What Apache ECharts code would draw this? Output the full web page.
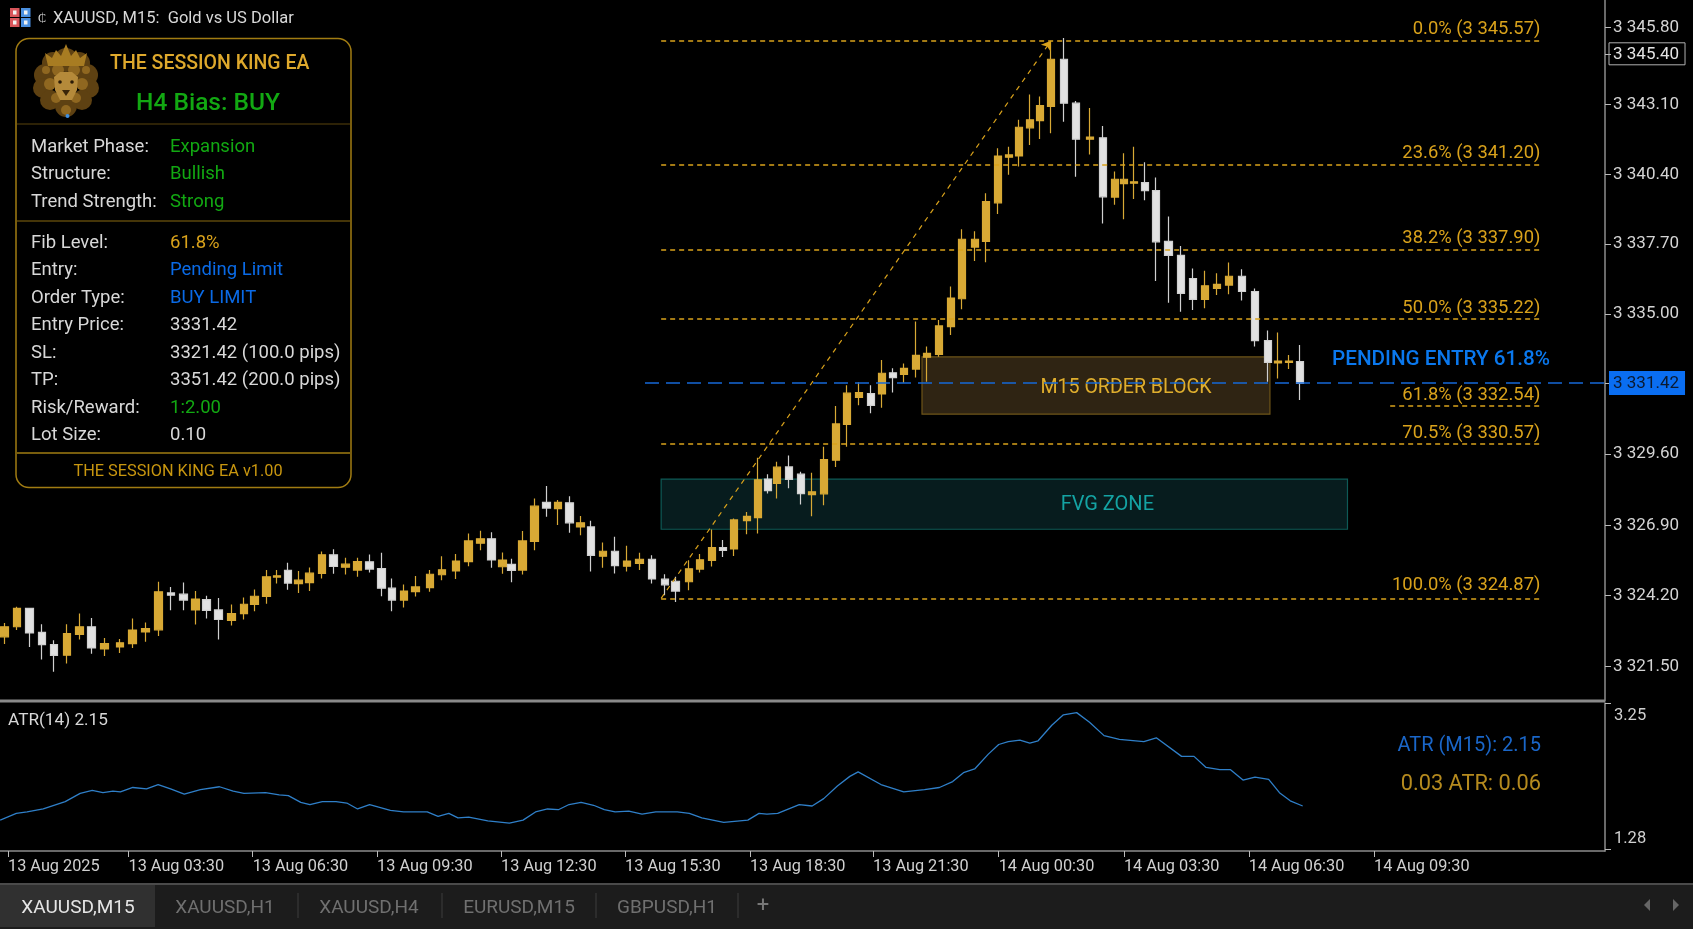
<!DOCTYPE html>
<html><head><meta charset="utf-8">
<style>html,body{margin:0;padding:0;background:#000}#c{width:1693px;height:929px}</style>
<script src="https://cdn.jsdelivr.net/npm/echarts@6/dist/echarts.min.js"></script>
</head><body><div id="c"></div>
<script>
const candleTimes=[-0.09,0.22,0.52,0.82,1.11,1.42,1.72,2.01,2.33,2.70,3.00,3.32,3.63,3.93,4.23,4.52,4.79,5.08,5.39,5.69,5.94,6.23,6.49,6.75,7.01,7.27,7.57,7.85,8.14,8.43,8.72,9.01,9.26,9.55,9.83,10.17,10.47,10.80,11.10,11.39,11.66,11.92,12.14,12.41,12.69,12.98,13.26,13.54,13.80,14.06,14.35,14.64,14.93,15.23,15.53,15.84,16.09,16.42,16.69,16.98,17.24,17.51,17.82,18.09,18.33,18.54,18.83,19.12,19.39,19.68,19.97,20.23,20.52,20.81,21.08,21.34,21.61,21.90,22.16,22.45,22.74,23.00,23.32,23.58,23.87,24.14,24.38,24.64,24.89,25.15,25.46,25.75,26.09,26.40,26.69,26.91,27.15,27.42,27.68,27.99,28.29,28.57,28.86,29.15,29.44,29.76,30.07,30.38,30.62,30.89,31.16];
const candleOpen=[3322.48,3322.87,3323.58,3322.65,3322.18,3321.77,3322.57,3322.87,3322.01,3322.09,3322.22,3322.67,3322.75,3324.18,3324.13,3323.52,3323.92,3323.52,3323.12,3323.38,3323.73,3324.04,3324.79,3325.05,3324.54,3324.58,3324.93,3325.65,3325.17,3325.06,3325.38,3325.12,3324.36,3323.90,3324.23,3324.38,3324.88,3325.03,3325.39,3326.10,3326.27,3325.19,3325.28,3325.06,3326.17,3327.68,3327.44,3327.66,3326.73,3326.73,3325.60,3325.79,3325.21,3325.32,3325.48,3324.71,3324.63,3324.61,3325.10,3325.44,3325.93,3325.88,3326.97,3327.09,3328.58,3328.41,3329.05,3328.77,3327.98,3328.01,3329.31,3330.69,3331.74,3331.88,3331.87,3332.69,3332.63,3332.83,3333.29,3333.40,3334.47,3335.55,3337.55,3337.77,3339.26,3341.02,3341.07,3342.16,3342.44,3342.99,3344.81,3343.11,3341.72,3341.77,3339.48,3340.00,3340.02,3340.04,3339.73,3337.77,3337.23,3336.33,3335.53,3335.95,3336.08,3336.42,3335.83,3333.93,3333.07,3333.09,3333.12];
const candleClose=[3322.87,3323.58,3322.63,3322.18,3321.76,3322.61,3322.87,3322.05,3322.22,3322.25,3322.74,3322.80,3324.22,3324.09,3323.90,3323.94,3323.50,3323.15,3323.38,3323.74,3324.05,3324.80,3324.84,3324.56,3324.67,3324.94,3325.65,3325.20,3325.29,3325.39,3325.10,3324.36,3323.90,3324.25,3324.41,3324.90,3325.07,3325.41,3326.19,3326.27,3325.45,3325.45,3325.05,3326.19,3327.53,3327.46,3327.68,3326.89,3326.89,3325.63,3325.79,3325.23,3325.41,3325.48,3324.72,3324.49,3324.25,3325.11,3325.46,3325.93,3325.82,3327.00,3327.14,3328.55,3328.13,3329.04,3328.57,3328.02,3328.09,3329.33,3330.71,3331.90,3331.92,3331.43,3332.67,3332.50,3332.86,3333.36,3333.44,3334.50,3335.58,3337.85,3337.85,3339.31,3341.07,3341.11,3342.18,3342.47,3343.02,3344.81,3343.11,3341.72,3341.80,3339.49,3340.17,3340.17,3340.07,3339.73,3337.75,3337.23,3335.76,3335.53,3336.05,3336.11,3336.42,3335.83,3333.93,3333.09,3333.14,3333.14,3332.28];
const candleLow=[3322.20,3322.74,3322.09,3321.60,3321.13,3321.45,3322.38,3321.83,3321.74,3321.86,3322.05,3322.29,3322.51,3323.51,3323.51,3322.96,3323.19,3322.38,3322.92,3323.15,3323.47,3323.76,3324.54,3324.30,3324.18,3324.25,3324.74,3324.92,3324.89,3324.80,3324.97,3324.05,3323.47,3323.61,3324.04,3324.22,3324.67,3324.72,3325.21,3325.83,3325.15,3324.92,3324.59,3324.89,3325.83,3327.12,3326.80,3326.50,3326.41,3325.01,3325.15,3324.93,3325.01,3325.06,3324.54,3324.09,3323.83,3324.28,3324.97,3325.20,3325.57,3325.61,3326.45,3326.48,3328.02,3327.83,3328.22,3327.60,3327.14,3327.57,3329.05,3329.83,3331.43,3331.12,3331.34,3331.93,3332.30,3332.51,3332.34,3333.31,3334.15,3335.14,3337.01,3336.96,3338.83,3340.34,3340.66,3341.49,3341.73,3341.95,3342.39,3340.27,3341.13,3338.46,3339.18,3338.62,3339.41,3339.36,3336.24,3335.40,3335.05,3335.12,3335.18,3335.70,3335.72,3335.48,3333.70,3332.34,3332.47,3332.83,3331.64];
const candleHigh=[3323.02,3323.64,3323.58,3322.97,3322.35,3322.97,3323.38,3323.21,3322.44,3322.40,3323.19,3323.03,3324.61,3324.41,3324.58,3324.25,3324.07,3323.98,3323.73,3324.00,3324.31,3325.06,3325.06,3325.34,3325.03,3325.16,3325.78,3325.87,3325.54,3325.54,3325.66,3325.73,3324.74,3324.50,3324.83,3325.06,3325.60,3325.68,3326.48,3326.58,3326.52,3325.74,3325.50,3326.57,3327.83,3328.31,3327.77,3327.92,3327.15,3326.97,3326.13,3326.35,3326.00,3325.73,3325.63,3324.90,3324.80,3325.44,3325.68,3326.63,3326.22,3327.06,3327.31,3329.40,3328.77,3329.25,3329.49,3328.86,3328.82,3329.83,3331.40,3332.21,3332.32,3332.21,3333.18,3332.86,3333.05,3334.67,3333.70,3334.73,3336.02,3338.24,3338.16,3339.63,3341.37,3341.43,3342.47,3343.45,3343.37,3345.50,3345.63,3343.20,3342.92,3342.23,3340.47,3341.18,3341.43,3340.83,3340.24,3338.73,3337.59,3336.72,3336.63,3336.54,3336.95,3336.69,3335.95,3334.32,3334.25,3333.38,3333.76];

const atrTimes=[-0.19,0.20,0.46,0.85,1.38,1.74,2.03,2.29,2.53,2.71,3.01,3.34,3.62,3.92,4.25,4.64,5.10,5.43,5.69,6.21,6.54,6.76,7.06,7.28,7.58,7.91,8.17,8.43,8.72,9.22,9.54,9.81,10.11,10.37,10.63,10.85,11.11,11.57,12.09,12.42,12.72,13.01,13.27,13.53,13.82,14.12,14.38,14.64,14.97,15.29,15.62,16.14,16.43,16.73,17.26,17.84,18.11,18.30,18.56,19.08,19.39,19.67,20.00,20.30,20.50,21.05,21.60,22.10,22.46,22.78,23.04,23.31,23.64,23.89,24.12,24.40,24.64,24.84,25.17,25.45,25.77,26.08,26.43,26.80,27.39,27.69,28.30,28.60,28.89,29.22,29.48,29.78,30.07,30.40,30.66,30.92,31.22];
const atrValues=[1.67,1.76,1.78,1.82,1.92,2.03,2.07,2.04,2.06,2.05,2.11,2.09,2.15,2.09,2.02,2.08,2.12,2.06,2.03,2.04,2.01,2.00,1.91,1.88,1.92,1.92,1.90,1.82,1.88,1.80,1.78,1.78,1.78,1.72,1.76,1.70,1.71,1.66,1.63,1.67,1.78,1.82,1.81,1.88,1.91,1.87,1.81,1.78,1.79,1.75,1.78,1.78,1.76,1.70,1.64,1.67,1.76,1.75,1.76,1.88,1.86,1.96,2.13,2.26,2.32,2.15,2.05,2.08,2.11,2.19,2.31,2.36,2.56,2.69,2.73,2.75,2.71,2.74,2.95,3.09,3.12,2.99,2.81,2.76,2.73,2.78,2.53,2.53,2.38,2.35,2.35,2.21,2.25,2.22,2.04,1.93,1.86];

const timeTickValues=[0,2.906,5.90,8.90,11.89,14.88,17.89,20.86,23.89,26.91,29.92,32.94];
const timeTickLabels=['13 Aug 2025','13 Aug 03:30','13 Aug 06:30','13 Aug 09:30','13 Aug 12:30','13 Aug 15:30','13 Aug 18:30','13 Aug 21:30','14 Aug 00:30','14 Aug 03:30','14 Aug 06:30','14 Aug 09:30'];
const priceTickValues=[3346.03,3345.02,3343.06,3340.36,3337.66,3334.96,3332.29,3329.55,3326.78,3324.08,3321.33];
const priceTickLabels=['3 345.80','3 345.40','3 343.10','3 340.40','3 337.70','3 335.00','3 331.42','3 329.60','3 326.90','3 324.20','3 321.50'];
const priceTickStyles=['n','box','n','n','n','n','entry','n','n','n','n'];
const fibLevels=[3345.52,3340.73,3337.44,3334.77,3331.40,3329.93,3323.97];
const fibLabels=['0.0% (3 345.57)','23.6% (3 341.20)','38.2% (3 337.90)','50.0% (3 335.22)','61.8% (3 332.54)','70.5% (3 330.57)','100.0% (3 324.87)'];
const fibStarts=[15.75,15.75,15.75,15.75,33.33,15.75,15.75];
const fibLabelGaps=[2,2,2,2,2,2,4];
const fibEnd=37.0;
const entryPrice=3332.29, entryStart=15.36;
const trendFrom=[15.75,3323.97], trendTo=[25.15,3345.52];
const orderBlock=[[22.04,3333.30],[30.43,3331.09]];
const fvgZone=[[15.75,3328.58],[32.3,3326.64]];
const atrTickValues=[1.28,3.25];
const atrLabelValues=[1.42,3.08];
const atrLabelTexts=['1.28','3.25'];
const panelRowsA=[['Market Phase:','Expansion'],['Structure:','Bullish'],['Trend Strength:','Strong']];
const panelRowsB=[['Fib Level:','61.8%'],['Entry:','Pending Limit'],['Order Type:','BUY LIMIT'],['Entry Price:','3331.42'],['SL:','3321.42 (100.0 pips)'],['TP:','3351.42 (200.0 pips)'],['Risk/Reward:','1:2.00'],['Lot Size:','0.10']];
const tabNames=['XAUUSD,M15','XAUUSD,H1','XAUUSD,H4','EURUSD,M15','GBPUSD,H1'];

const FONT='Roboto';
const GOLD='#d8a935', WHITE='#e2e2e2', LGOLD='#d9a21b', GREEN='#12a812', BLUE='#0a6ae6', GREY='#8c8c8c';
const candleData=candleTimes.map((t,i)=>[t,candleOpen[i],candleClose[i],candleLow[i],candleHigh[i]]);
const atrData=atrTimes.map((t,i)=>[t,atrValues[i]]);

function txt(x,y,s,o={}){return {type:'text',x,y,z:o.z||20,style:{text:s,fill:o.c||'#d8d8d8',font:`${o.w||400} ${o.s||18.5}px ${FONT}`,textAlign:o.a||'left',textVerticalAlign:'middle'}};}
function rect(x,y,w,h,fill,o={}){return {type:'rect',z:o.z||10,shape:{x,y,width:w,height:h,r:o.r||0},style:{fill,stroke:o.stroke||null,lineWidth:o.lw||0}};}
function line(x1,y1,x2,y2,c,lw=1,z=11){return {type:'line',z,shape:{x1,y1,x2,y2},style:{stroke:c,lineWidth:lw}};}

const valueColor={'Expansion':GREEN,'Bullish':GREEN,'Strong':GREEN,'61.8%':LGOLD,'Pending Limit':BLUE,'BUY LIMIT':BLUE,'1:2.00':GREEN};
const g=[];
// bottom tab bar
g.push(rect(0,885,1693,44,'#1c1c1c',{z:5}));
g.push(line(0,884,1693,884,'#4a4a4a',2));
g.push(rect(0,885,155,42,'#303030',{z:6}));
[78,225,369,519,667].forEach((x,i)=>g.push(txt(x,908,tabNames[i],{a:'center',s:19,c:i?'#707070':'#e6e6e6'})));
g.push(txt(763,906,'+',{a:'center',s:22,c:'#777'}));
[298,442,596,738].forEach(x=>g.push(line(x,893,x,918,'#3c3c3c',1)));
g.push({type:'polygon',z:11,shape:{points:[[1650,899],[1650,911],[1644,905]]},style:{fill:'#666'}});
g.push({type:'polygon',z:11,shape:{points:[[1673,899],[1673,911],[1679,905]]},style:{fill:'#666'}});
// title
[[10,8,'#d8555a'],[21,8,'#4a8fe0'],[10,18,'#d8555a'],[21,18,'#4a8fe0']].forEach(a=>{g.push(rect(a[0],a[1],9.5,9,a[2],{z:30}));g.push(rect(a[0]+3,a[1]+2.5,3.5,4,'#f2f2f2',{z:31}));});
g.push(txt(38,19,'₵',{s:12,c:'#ddd'}));
g.push(txt(53,19,'XAUUSD, M15:  Gold vs US Dollar',{s:16.5,c:'#d8d8d8'}));
// panel
g.push(rect(16,38.5,335,449,'#000',{r:13,stroke:'#a17c12',lw:1.5,z:15}));
g.push(line(17,124,350,124,'#5a440c',1,16));g.push(line(17,221,350,221,'#8a6a10',1,16));g.push(line(17,453,350,453,'#a17c12',1.5,16));
g.push(txt(110,64,'THE SESSION KING EA',{s:19.5,w:500,c:'#dfa92c'}));
g.push(txt(208,104,'H4 Bias: BUY',{s:24.5,w:500,c:GREEN,a:'center'}));
[147,174,202].forEach((y,i)=>{g.push(txt(31,y,panelRowsA[i][0]));g.push(txt(170,y,panelRowsA[i][1],{c:valueColor[panelRowsA[i][1]]||'#d8d8d8'}));});
[243,270,298,325,353,380,408,435].forEach((y,i)=>{g.push(txt(31,y,panelRowsB[i][0]));g.push(txt(170,y,panelRowsB[i][1],{c:valueColor[panelRowsB[i][1]]||'#d8d8d8'}));});
g.push(txt(178,472,'THE SESSION KING EA v1.00',{s:16.3,a:'center',c:'#c8960f'}));
// lion emblem
[[66,60,12],[53,63,11],[79,63,11],[45,75,11],[87,75,11],[43,88,10],[89,88,10],[50,100,10],[82,100,10],[66,106,11]].forEach(m=>g.push({type:'circle',z:18,shape:{cx:m[0],cy:m[1],r:m[2]},style:{fill:'#5e4112'}}));
[[58,70,6],[74,70,6],[50,84,6],[82,84,6],[56,98,5],[76,98,5],[46,70,4],[86,70,4],[66,110,5]].forEach(m=>g.push({type:'circle',z:19,shape:{cx:m[0],cy:m[1],r:m[2]},style:{fill:'#8f6720'}}));
g.push({type:'polygon',z:20,shape:{points:[[54,77],[60,72],[72,72],[78,77],[77,90],[72,100],[60,100],[55,90]]},style:{fill:'#b58a3a'}});
g.push({type:'polygon',z:21,shape:{points:[[62,90],[70,90],[66,96]]},style:{fill:'#3a2508'}});
g.push({type:'circle',z:21,shape:{cx:60,cy:82,r:1.8},style:{fill:'#2a1a06'}});
g.push({type:'circle',z:21,shape:{cx:72,cy:82,r:1.8},style:{fill:'#2a1a06'}});
g.push({type:'polygon',z:21,shape:{points:[[48,66],[45,53],[52,58],[56,50],[61,56],[66,44],[71,56],[76,50],[80,58],[87,53],[84,66]]},style:{fill:'#a87c22'}});
g.push({type:'circle',z:21,shape:{cx:67.5,cy:116,r:2},style:{fill:'#3f8fe0'}});
// annotations
g.push(txt(1332,360,'PENDING ENTRY 61.8%',{s:20.7,w:500,c:'#0a78ee'}));
g.push(txt(8,721,'ATR(14) 2.15',{s:17.2,c:'#d8d8d8'}));
g.push(txt(1541,746,'ATR (M15): 2.15',{s:20,a:'right',c:'#1a66c8'}));
g.push(txt(1541,785,'0.03 ATR: 0.06',{s:21.8,a:'right',c:'#b58a1e'}));
// splitter
g.push(line(0,701,1605,701,'#8a8a8a',3));

const fibLines=fibLevels.map((lv,i)=>[
 {coord:[fibStarts[i],lv],label:{show:true,formatter:fibLabels[i],position:'insideEndTop',color:LGOLD,fontFamily:FONT,fontSize:18.4,distance:[2,fibLabelGaps[i]]}},
 {coord:[fibEnd,lv]}
]);

const chart=echarts.init(document.getElementById('c'),null,{renderer:'canvas'});
chart.setOption({
 backgroundColor:'#000',animation:false,
 textStyle:{fontFamily:FONT},
 grid:[{left:0,right:88,top:0,height:701},{left:0,right:88,top:703,height:148}],
 xAxis:[
  {type:'value',gridIndex:0,min:-0.193,max:38.51,show:false,splitLine:{show:false}},
  {type:'value',gridIndex:1,min:-0.193,max:38.51,splitLine:{show:false},
   axisLine:{show:true,onZero:false,lineStyle:{color:GREY,width:1.5}},
   axisTick:{show:true,length:6,customValues:timeTickValues,lineStyle:{color:'#bbb'}},
   axisLabel:{show:true,customValues:timeTickValues,align:'left',margin:8,fontSize:16.3,color:'#d0d0d0',fontFamily:FONT,hideOverlap:false,showMinLabel:true,showMaxLabel:true,
     formatter:v=>timeTickLabels[timeTickValues.indexOf(v)]||''}}
 ],
 yAxis:[
  {type:'value',gridIndex:0,position:'right',min:3320,max:3347.1,scale:true,splitLine:{show:false},
   axisLine:{show:true,onZero:false,lineStyle:{color:GREY,width:1.5}},
   axisTick:{show:true,length:6,customValues:priceTickValues,lineStyle:{color:'#bbb'}},
   axisLabel:{show:true,customValues:priceTickValues,margin:4,fontSize:17,color:'#d4d4d4',fontFamily:FONT,align:'left',hideOverlap:false,
     formatter:v=>{const i=priceTickValues.indexOf(v);return i<0?'':'{'+priceTickStyles[i]+'|'+priceTickLabels[i]+'}';},
     rich:{n:{color:'#d4d4d4',fontSize:17,fontFamily:FONT,padding:[0,0,0,4]},
           box:{color:'#e4e4e4',fontSize:17,fontFamily:FONT,borderColor:'#b0b0b0',borderWidth:1,padding:[3,6,2,4]},
           entry:{color:'#0b1a30',fontSize:17,fontFamily:FONT,backgroundColor:'#0a6ef2',padding:[4,6,3,4]}}}},
  {type:'value',gridIndex:1,position:'right',min:1.253,max:3.25,splitLine:{show:false},
   axisLine:{show:true,onZero:false,lineStyle:{color:GREY,width:1.5}},
   axisTick:{show:true,length:6,customValues:atrTickValues,lineStyle:{color:'#bbb'}},
   axisLabel:{show:true,customValues:atrLabelValues,margin:9,fontSize:16.5,color:'#d0d0d0',fontFamily:FONT,align:'left',
     formatter:v=>atrLabelTexts[atrLabelValues.indexOf(v)]||''}}
 ],
 series:[
  {type:'line',name:'zones',xAxisIndex:0,yAxisIndex:0,data:[],z:1,silent:true,
   markArea:{silent:true,data:[
    [{coord:fvgZone[0],itemStyle:{color:'#071c1e',borderColor:'#0e5a56',borderWidth:1.2},label:{show:true,formatter:'FVG ZONE',position:'inside',color:'#14a3a3',fontSize:20,fontFamily:FONT,offset:[103,1]}},{coord:fvgZone[1]}],
    [{coord:orderBlock[0],itemStyle:{color:'#2f2413',borderColor:'#6e5418',borderWidth:1.2},label:{show:true,formatter:'M15 ORDER BLOCK',position:'inside',color:'#dfae2e',fontSize:19.6,fontFamily:FONT,offset:[30,3]}},{coord:orderBlock[1]}]
   ]}},
  {type:'candlestick',name:'XAUUSD',xAxisIndex:0,yAxisIndex:0,data:candleData,barWidth:8,z:3,
   itemStyle:{color:GOLD,color0:WHITE,borderColor:GOLD,borderColor0:'#d0d0d0',borderWidth:1.2}},
  {type:'line',name:'levels',xAxisIndex:0,yAxisIndex:0,data:[],z:4,silent:true,
   markLine:{silent:true,symbol:'none',animation:false,precision:4,lineStyle:{color:LGOLD,type:[5,4],width:1.5},data:[
    ...fibLines,
    [{coord:trendFrom,symbol:'none',lineStyle:{color:LGOLD,type:[5,5],width:1.2},label:{show:false}},{coord:trendTo,symbol:'arrow',symbolSize:9}],
    [{coord:[entryStart,entryPrice],lineStyle:{color:'#1668d8',type:[14,7],width:1.6},label:{show:false}},{coord:[38.51,entryPrice]}]
   ]}},
  {type:'line',name:'ATR',xAxisIndex:1,yAxisIndex:1,data:atrData,showSymbol:false,lineStyle:{color:'#2f7fc8',width:1.3},z:3}
 ],
 graphic:{elements:g}
});
</script></body></html>
